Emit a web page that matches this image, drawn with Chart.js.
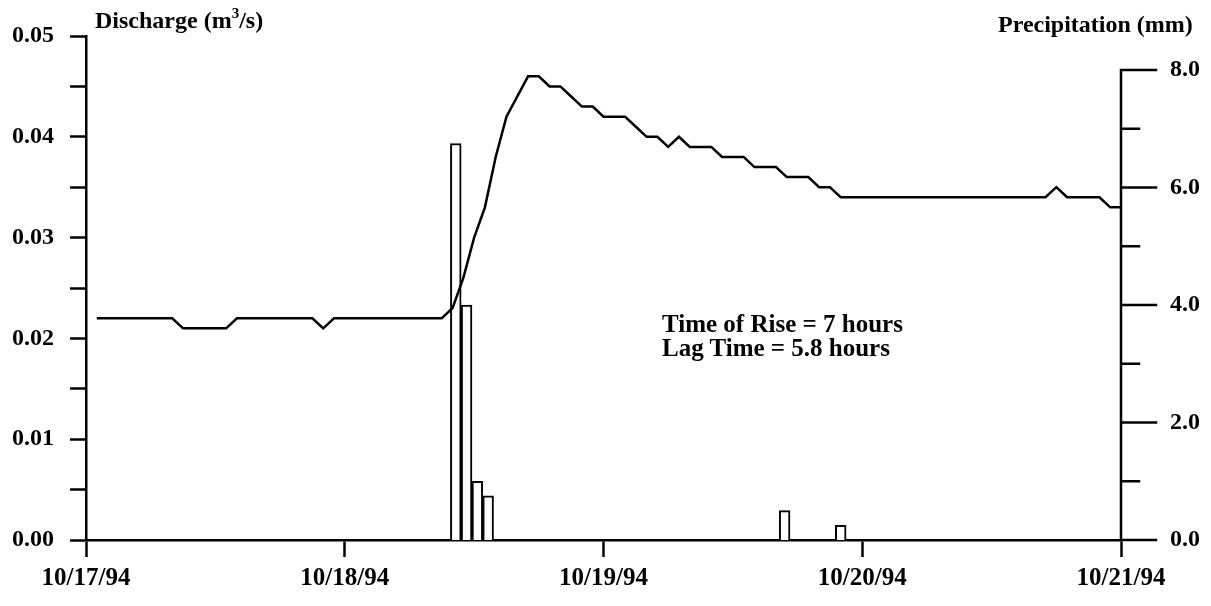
<!DOCTYPE html>
<html>
<head>
<meta charset="utf-8">
<title>Discharge and precipitation, 10/17/94 - 10/21/94</title>
<script src="https://cdn.jsdelivr.net/npm/chart.js@4.4.1/dist/chart.umd.min.js"></script>
<style>
  html, body { margin: 0; padding: 0; background: #fff; }
  #wrap { position: relative; width: 1211px; height: 606px; }
  canvas { position: absolute; left: 0; top: 0; }
  .lbl {
    position: absolute;
    font-family: 'Liberation Serif', serif;
    font-weight: bold;
    font-size: 24px;
    line-height: 24px;
    color: #000;
    white-space: nowrap;
  }
  .lbl sup { font-size: 15px; line-height: 0; vertical-align: 10px; }
  .note { font-size: 25px; line-height: 24px; }
</style>
</head>
<body>
<div id="wrap">
  <canvas id="hydroChart" width="1211" height="606"></canvas>
  <div class="lbl" style="left:95px; top:8px;">Discharge (m<sup>3</sup>/s)</div>
  <div class="lbl" style="left:998px; top:12px;">Precipitation (mm)</div>
  <div class="lbl note" style="left:662px; top:312px;">Time of Rise = 7 hours<br>Lag Time = 5.8 hours</div>
</div>

<script>
// Hourly discharge (m3/s), first reading at hour 1 after midnight 10/17/94
const flowStartHour = 1;
const discharge = [
  0.022, 0.022, 0.022, 0.022, 0.022, 0.022, 0.022, 0.022,
  0.021, 0.021, 0.021, 0.021, 0.021,
  0.022, 0.022, 0.022, 0.022, 0.022, 0.022, 0.022, 0.022,
  0.021,
  0.022, 0.022, 0.022, 0.022, 0.022, 0.022, 0.022, 0.022, 0.022, 0.022, 0.022,
  0.023, 0.026, 0.030, 0.033, 0.038, 0.042, 0.044, 0.046, 0.046, 0.045,
  0.045, 0.044, 0.043, 0.043, 0.042, 0.042, 0.042, 0.041, 0.040, 0.040,
  0.039, 0.040, 0.039, 0.039, 0.039, 0.038, 0.038, 0.038, 0.037, 0.037,
  0.037, 0.036, 0.036, 0.036, 0.035, 0.035,
  0.034, 0.034, 0.034, 0.034, 0.034, 0.034, 0.034, 0.034, 0.034, 0.034,
  0.034, 0.034, 0.034, 0.034, 0.034, 0.034, 0.034, 0.034, 0.034, 0.034,
  0.035,
  0.034, 0.034, 0.034, 0.034,
  0.033, 0.033
];

// Rain gauge totals (mm) and the hour each bar is centred on
const rainHours = [34.3, 35.3, 36.3, 37.3, 64.8, 70.0];
const rainfall = [6.75, 4.0, 1.0, 0.75, 0.5, 0.25];

// Axis labels
const dateLabels = ['10/17/94', '10/18/94', '10/19/94', '10/20/94', '10/21/94'];
const hoursPerDay = 24;
const precipTickMax = 8;

const flowPoints = discharge.map((q, i) => ({ x: flowStartHour + i, y: q }));
const rainPoints = rainfall.map((r, i) => ({ x: rainHours[i], y: r }));

const tickFont = { family: "'Liberation Serif', serif", size: 24, weight: 'bold' };

// keep the label padding of the y axes from pushing the plot area down
const noVerticalPadding = s => { s.paddingTop = 0; s.paddingBottom = 0; };

// Right-hand axis: line stops at 8.0, long ticks on even values, short ones between
const precipAxis = {
  id: 'precipAxis',
  afterDraw(chart) {
    const s = chart.scales.yP;
    const c = chart.ctx;
    const x = chart.chartArea.right;
    c.save();
    c.strokeStyle = '#000';
    c.lineWidth = 2.5;
    c.lineCap = 'square';
    c.beginPath();
    c.moveTo(x, s.getPixelForValue(0));
    c.lineTo(x, s.getPixelForValue(precipTickMax));
    s.ticks.forEach(t => {
      const y = s.getPixelForValue(t.value);
      const len = t.value % 2 === 0 ? 35 : 18;
      c.moveTo(x, y);
      c.lineTo(x + len, y);
    });
    c.stroke();
    c.restore();
  }
};

const ctx = document.getElementById('hydroChart').getContext('2d');
const hydroChart = new Chart(ctx, {
  type: 'bar',
  data: {
    datasets: [{
      type: 'line',
      label: 'Discharge',
      data: flowPoints,
      yAxisID: 'yQ',
      borderColor: '#000',
      borderWidth: 2.5,
      pointRadius: 0,
      tension: 0,
      order: 0
    }, {
      type: 'bar',
      label: 'Precipitation',
      data: rainPoints,
      yAxisID: 'yP',
      backgroundColor: '#fff',
      borderColor: '#000',
      borderWidth: 2,
      barPercentage: 1,
      categoryPercentage: 1,
      order: 1
    }]
  },
  options: {
    responsive: false,
    animation: false,
    devicePixelRatio: 1,
    layout: { padding: { top: 36 } },
    plugins: {
      legend: { display: false },
      tooltip: { enabled: false }
    },
    scales: {
      x: {
        type: 'linear',
        min: 0,
        max: 96,
        offset: false,
        ticks: {
          stepSize: hoursPerDay,
          autoSkip: false,
          maxRotation: 0,
          padding: 7,
          color: '#000',
          font: { family: "'Liberation Serif', serif", size: 25, weight: 'bold' },
          callback: v => dateLabels[Math.round(v / hoursPerDay)]
        },
        grid: { offset: false, drawOnChartArea: false, drawTicks: true, tickLength: 17, tickColor: '#000', tickWidth: 2.5 },
        border: { color: '#000', width: 2.5 },
        afterFit: s => { s.height = 66; }
      },
      yQ: {
        position: 'left',
        min: 0,
        max: 0.05,
        ticks: {
          stepSize: 0.005,
          padding: 16,
          color: '#000',
          font: tickFont,
          callback: v => (Math.round(v * 1000) % 10 === 0 ? v.toFixed(2) : '')
        },
        grid: { drawOnChartArea: false, drawTicks: true, tickLength: 16, tickColor: '#000', tickWidth: 2.5 },
        border: { color: '#000', width: 2.5 },
        afterFit: s => { s.width = 86; noVerticalPadding(s); }
      },
      yP: {
        position: 'right',
        min: 0,
        max: 8.58,
        ticks: {
          stepSize: 1,
          includeBounds: false,
          padding: 49,
          color: '#000',
          font: tickFont,
          callback: v => (v % 2 === 0 ? v.toFixed(1) : '')
        },
        grid: { display: false, drawTicks: false },
        border: { display: false },
        afterFit: s => { s.width = 90; noVerticalPadding(s); }
      }
    }
  },
  plugins: [precipAxis]
});
</script>
</body>
</html>
